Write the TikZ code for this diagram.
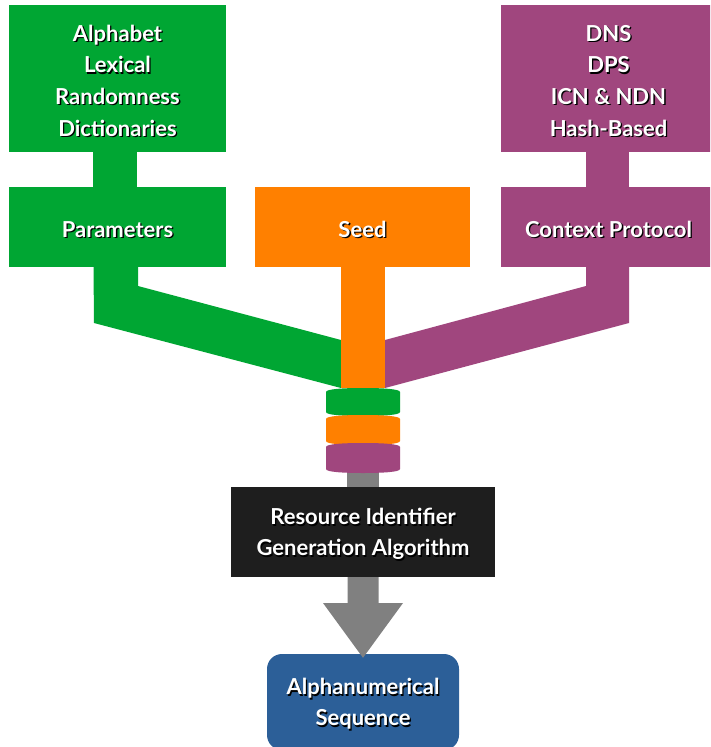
\documentclass[tikz,border=0pt]{standalone}
\usepackage{fontspec}
\setmainfont{Lato}
\definecolor{gcol}{RGB}{0,166,51}
\definecolor{ocol}{RGB}{255,128,0}
\definecolor{pcol}{RGB}{160,70,126}
\definecolor{kcol}{RGB}{30,30,30}
\definecolor{bcol}{RGB}{44,95,152}
\definecolor{acol}{RGB}{128,128,128}
\newcommand\sh[1]{\leavevmode\raisebox{-2.8pt}[\height][\depth]{\rlap{\kern1.3pt\raisebox{-1.3pt}{\color{black}#1}}#1}}
\newcommand\cylpath[2]{(326,#1+4) .. controls (326,#1+1) and (343,#1) .. (363,#1) .. controls (383,#1) and (400,#1+1) .. (400,#1+4) -- (400,#2-4) .. controls (400,#2-1) and (383,#2) .. (363,#2) .. controls (343,#2) and (326,#2-1) .. (326,#2-4) -- cycle}
\tikzset{
  box/.style={inner sep=0pt, text=white, align=center, font=\fontsize{22}{31.6}\selectfont\bfseries},
}
\begin{document}
\begin{tikzpicture}[x=1pt,y=-1pt]
\clip (0,0) rectangle (710,747);
\fill[white] (0,0) rectangle (710,747);
% top boxes
\node[box, fill=gcol, minimum width=217pt, minimum height=147pt] (gtop) at (117.5,78.5)
  {\sh{Alphabet}\\\sh{Lexical}\\\sh{Randomness}\\\sh{Dictionaries}};
\node[box, fill=gcol, minimum width=217pt, minimum height=80pt] (params) at (117.5,227) {\sh{Parameters}};
\node[box, fill=ocol, minimum width=215pt, minimum height=80pt] (seed) at (362.5,227) {\sh{Seed}};
\node[box, fill=pcol, minimum width=215pt, minimum height=147pt] (ptop) at (608.5,78.5)
  {\sh{DNS}\\\sh{DPS}\\\sh{ICN \& NDN}\\\sh{Hash-Based}};
\node[box, fill=pcol, minimum width=215pt, minimum height=80pt] (ctx) at (608.5,227) {\sh{Context Protocol}};
% stems between top boxes
\fill[gcol] ([xshift=-25pt]gtop.south) rectangle ([xshift=19.5pt]params.north);
\fill[pcol] ([xshift=-22.5pt]ptop.south) rectangle ([xshift=20.5pt]ctx.north);
% funnel bands
\coordinate (fun) at (363,388);
\fill[gcol] ([xshift=-24pt]params.south) -- ([xshift=20.5pt]params.south) -- (138,286) -- (341,340) -- (fun -| 341,0) -- (94,323) -- cycle;
\fill[pcol] ([xshift=20.5pt]ctx.south) -- ([xshift=-22.5pt]ctx.south) -- (586,286) -- (385,340) -- (fun -| 385,0) -- (629,323) -- cycle;
\fill[ocol] ([xshift=-21.5pt]seed.south) rectangle ([xshift=22pt]fun);
% algorithm box
\node[box, fill=kcol, minimum width=264pt, minimum height=90pt, font=\fontsize{22}{31}\selectfont\bfseries] (algo) at (363,532)
  {\sh{Resource Identifier}\\\sh{Generation Algorithm}};
\node[box, fill=bcol, rounded corners=15pt, minimum width=192pt, minimum height=96pt, font=\fontsize{22}{31}\selectfont\bfseries] (seq) at (363,702)
  {\sh{Alphanumerical}\\\sh{Sequence}};
% gray stem into algorithm
\fill[acol] ([xshift=-16pt]algo.north) rectangle ([xshift=16pt]algo.north |- fun);
% cylinders
\fill[gcol] \cylpath{388}{416};
\fill[ocol] \cylpath{415}{445};
\fill[pcol] \cylpath{443}{473};
% output arrow
\fill[acol] ([xshift=-15.5pt]algo.south) -- ++(0,26) -- (323,603) -- ([yshift=-4pt]seq.north) -- (403,603) -- (378.5,603) -- ([xshift=15.5pt]algo.south) -- cycle;
\end{tikzpicture}
\end{document}
